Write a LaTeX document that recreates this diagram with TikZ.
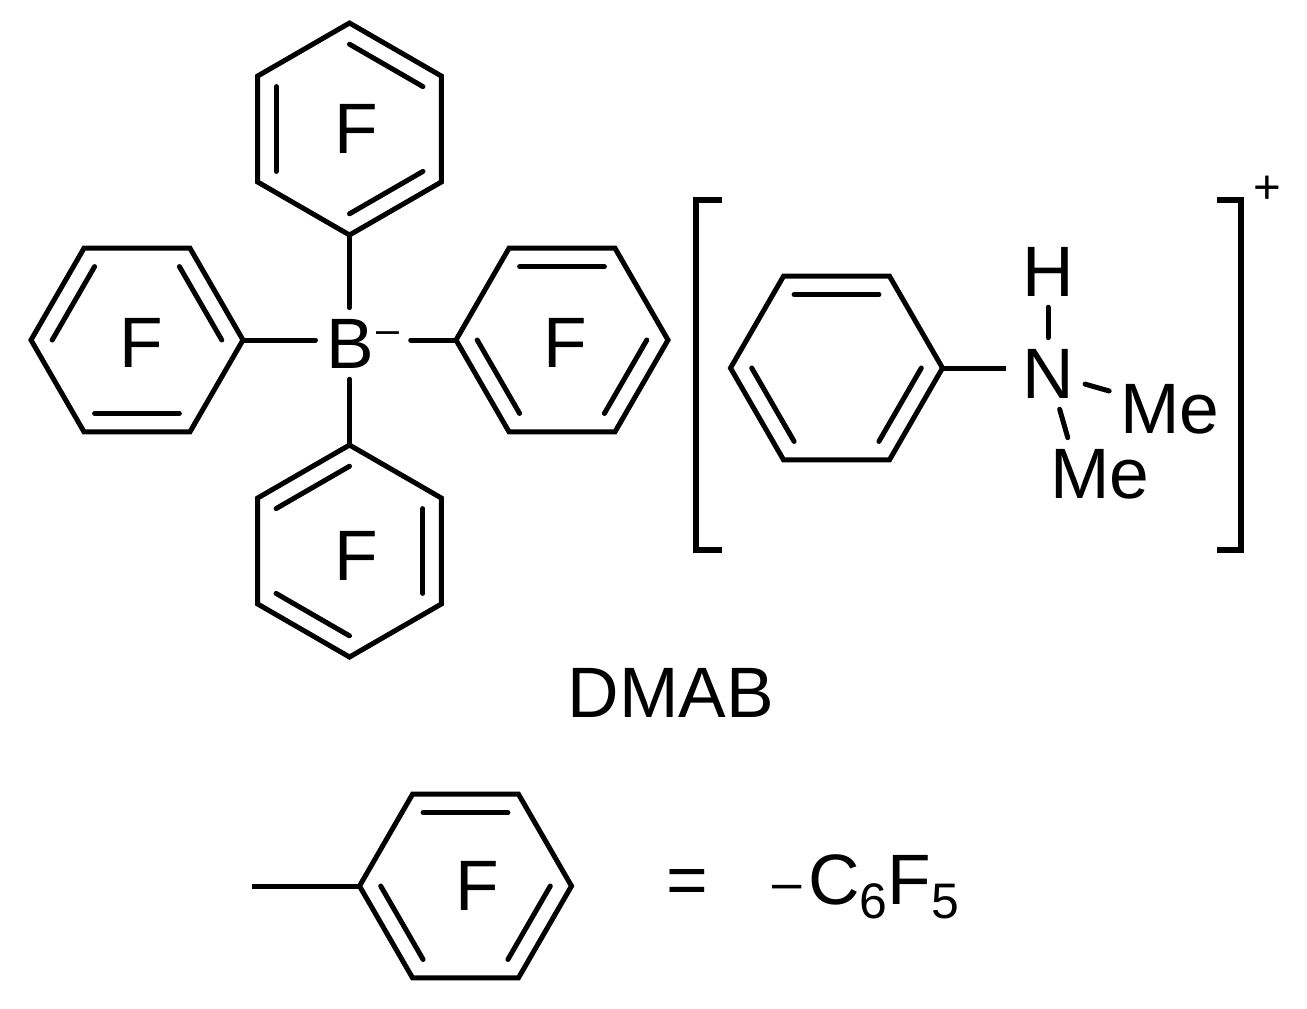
\documentclass[tikz,border=0pt]{standalone}
\usepackage{fontspec}
\setmainfont{Liberation Sans}
\usetikzlibrary{calc}
\newcommand{\atomfont}{\fontsize{20.3}{24}\selectfont}
\newcommand{\chargefont}{\fontsize{11.7}{14}\selectfont}
\newcommand{\subfont}{\fontsize{14.2}{17}\selectfont}
% ring: name, centre x, centre y, turn of the first corner, double bonds
\newcommand{\arylring}[5]{
	\coordinate (#1c) at (#2,#3);
	\foreach \i in {1,...,6}
		\coordinate (#1\i) at ({#2+106*cos(#4+60*\i)},{#3+106*sin(#4+60*\i)});
	\draw[bond] (#11) -- (#12) -- (#13) -- (#14) -- (#15) -- (#16) -- cycle;
	\foreach \i/\j in {#5}
		\draw[bond, line cap=round] ($(#1c)!.8!(#1\i)$) -- ($(#1c)!.8!(#1\j)$);
}
\tikzset{
	bond/.style={line width=0.05cm},
	stub/.style={line width=0.05cm, line cap=round},
	bracket/.style={line width=0.06cm},
	atom/.style={font=\atomfont, inner sep=3pt, anchor=base, text depth=0pt},
	charge/.style={font=\chargefont, inner sep=3pt, anchor=base},
}
\begin{document}
\begin{tikzpicture}[x=0.01cm, y=-0.01cm]
	\useasboundingbox (0,0) rectangle (1307,1008);
	
	% Draw the four rings of the anion
	\arylring{top}{349.5}{129}{30}{4/5, 2/3, 6/1}
	\arylring{left}{137}{340}{0}{3/4, 5/6, 1/2}
	\arylring{right}{562}{340}{0}{4/5, 6/1, 2/3}
	\arylring{bot}{349.5}{551}{30}{3/4, 5/6, 1/2}
	
	% Labels of the anion
	\node[atom] (ftop) at (356,153) {F};
	\node[atom] (fleft) at (141,367) {F};
	\node[atom] (fright) at (565,367) {F};
	\node[atom] (fbot) at (356,580) {F};
	\node[atom] (boron) at (350.5,368) {B};
	\node[charge] (minus) at (388,343) {–};
	
	% Draw the bonds to boron
	\draw[stub] (top1) -- (top1 |- boron.north);
	\draw[stub] (bot4) -- (bot4 |- boron.south);
	\draw[stub] (left6) -- (boron.west |- left6);
	\draw[stub] (right3) -- (minus.east |- right3);
	
	% Draw the cation
	\arylring{cat}{836.5}{368}{0}{4/5, 2/3, 6/1}
	\node[atom] (hyd) at (1048,296) {H};
	\node[atom] (nit) at (1048,398) {N};
	\node[atom] (mea) at (1170,433) {Me};
	\node[atom] (meb) at (1100,498) {Me};
	\draw[bond, shorten >=0.05cm] (cat6) -- (nit.west |- cat6);
	\draw[stub] (nit) -- (hyd);
	\draw[stub] (nit) -- (mea);
	\draw[stub] (nit.288) -- (meb.132);
	
	% Draw the brackets
	\coordinate (bla) at (722,200);
	\coordinate (blb) at (696,200);
	\coordinate (blc) at (696,550);
	\coordinate (bld) at (722,550);
	\coordinate (bra) at (1217,200);
	\coordinate (brb) at (1241,200);
	\coordinate (brc) at (1241,550);
	\coordinate (brd) at (1217,550);
	\draw[bracket] (bla) -- (blb) -- (blc) -- (bld);
	\draw[bracket] (bra) -- (brb) -- (brc) -- (brd);
	\node[font=\fontsize{13.5}{16}\selectfont, inner sep=0pt] (plus) at (1267,190) {+};
	
	\node[atom] (dmab) at (671,717) {DMAB};
	
	% Draw the key at the bottom
	\arylring{key}{465.5}{886}{0}{4/5, 2/3, 6/1}
	\coordinate (free) at (252,886);
	\draw[bond] (free) -- (key3);
	\node[atom] (fkey) at (477,910) {F};
	\node[atom] (equal) at (687,904) {=};
	\node[atom, anchor=base west, inner sep=0pt] (cfive) at (772,904) {\raisebox{1pt}{\fontsize{15}{18}\selectfont –}\kern1.8ptC\raisebox{-4.2pt}{\subfont 6}F\raisebox{-4.2pt}{\subfont 5}};
\end{tikzpicture}
\end{document}
